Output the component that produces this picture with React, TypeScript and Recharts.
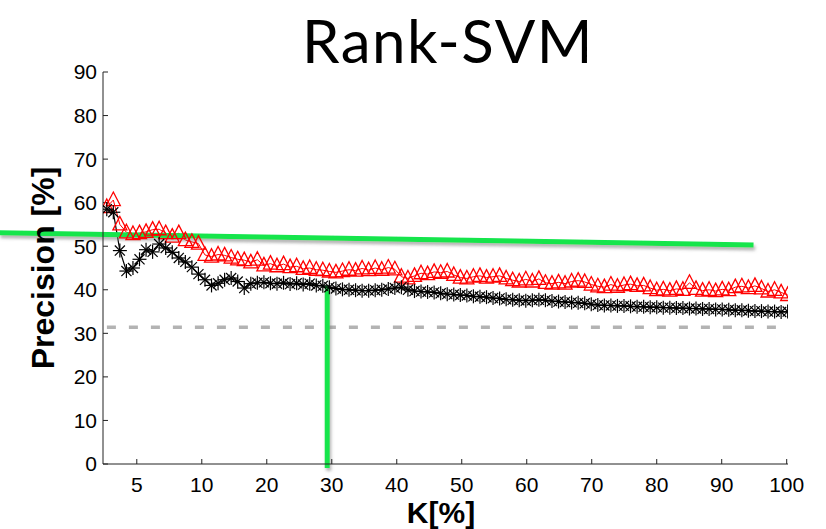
import React from "react";
import { LineChart, Line, XAxis, YAxis, ReferenceLine } from "recharts";

// Sample positions along the horizontal axis (evenly spaced samples)
const SAMPLE_COUNT = 105;
const FIRST_POS = -4.62;
const POS_STEP = 1.0074;
const samplePositions = Array.from({ length: SAMPLE_COUNT }, (_, i) => FIRST_POS + i * POS_STEP);

// Black asterisk series (precision, %)
const starSeries = [
  58.5, 57.8, 49.0, 44.3, 45.0, 47.0, 49.2, 48.7, 50.5, 49.6,
  48.6, 47.3, 46.4, 45.2, 43.6, 42.3, 41.0, 41.5, 42.3, 42.7,
  41.9, 40.4, 41.4, 41.6, 41.7, 41.5, 41.4, 41.6, 41.3, 41.5,
  41.2, 41.4, 41.0, 40.9, 40.6, 40.3, 40.1, 40.0, 39.9, 39.8,
  39.8, 39.9, 40.0, 40.2, 40.4, 40.6, 40.0, 39.7, 39.6, 39.5,
  39.4, 39.2, 39.0, 38.9, 38.8, 38.7, 38.5, 38.4, 38.3, 38.1,
  38.0, 37.8, 37.7, 37.6, 37.5, 37.6, 37.7, 37.6, 37.4, 37.3,
  37.2, 37.1, 37.0, 36.9, 36.7, 36.5, 36.4, 36.4, 36.3, 36.3,
  36.2, 36.1, 36.1, 36.0, 36.0, 35.9, 35.9, 35.8, 35.8, 35.7,
  35.7, 35.6, 35.6, 35.5, 35.5, 35.4, 35.3, 35.3, 35.2, 35.1,
  35.1, 35.0, 35.0, 34.9, 35.0,
];

// Red triangle series (precision, %)
const triangleSeries = [
  59.0, 60.6, 55.0, 53.2, 52.8, 53.0, 53.3, 53.8, 53.9, 53.0,
  52.2, 53.0, 51.4, 51.0, 50.6, 48.0, 47.6, 48.1, 47.9, 47.4,
  47.0, 46.8, 46.3, 46.9, 45.6, 46.0, 45.4, 45.9, 45.2, 45.4,
  44.8, 45.0, 44.6, 44.5, 44.2, 44.0, 44.3, 44.6, 44.4, 44.9,
  44.5, 45.0, 44.6, 45.1, 44.7, 43.0, 42.6, 43.2, 43.8, 43.6,
  44.1, 43.9, 44.2, 43.4, 42.8, 42.6, 43.0, 43.2, 42.8, 43.0,
  43.2, 42.6, 42.2, 41.9, 42.4, 41.9, 42.5, 41.6, 41.4, 41.7,
  41.4, 41.9, 42.1, 41.8, 41.2, 40.8, 40.6, 41.2, 40.7, 41.1,
  41.3, 40.9, 41.0, 40.4, 39.9, 40.1, 39.8, 40.2, 40.0, 41.6,
  40.2, 39.8, 40.0, 39.7, 40.1, 39.9, 40.6, 40.8, 40.4, 40.9,
  40.3, 39.6, 40.0, 39.4, 38.8,
];

// Horizontal axis ticks and the labels printed at them
const xTickPositions = [0, 10, 20, 30, 40, 50, 60, 70, 80, 90, 100];
const xTickLabels = ["5", "10", "20", "30", "40", "50", "60", "70", "80", "90", "100"];
const yTicks = [0, 10, 20, 30, 40, 50, 60, 70, 80, 90];

// Baseline level (dashed) and highlighted guide lines
const baselineLevel = 31.4;
const baselineSpan = [-4.6, 100];
const trendSegment = [
  { x: -21.2, y: 53.1 },
  { x: 94.9, y: 50.3 },
];
const cutSegment = [
  { x: 29.3, y: -0.9 },
  { x: 29.3, y: 40.9 },
];

const data = samplePositions.map((pos, i) => ({
  pos,
  star: starSeries[i],
  tri: triangleSeries[i],
}));

const GREEN = "#12e54b";

function StarDot(props: any) {
  const { cx, cy } = props;
  if (cx == null || cy == null) return null;
  const r = 7;
  const d = r * 0.72;
  return (
    <g stroke="#000" strokeWidth={1.2} fill="none">
      <line x1={cx - r} y1={cy} x2={cx + r} y2={cy} />
      <line x1={cx} y1={cy - r} x2={cx} y2={cy + r} />
      <line x1={cx - d} y1={cy - d} x2={cx + d} y2={cy + d} />
      <line x1={cx - d} y1={cy + d} x2={cx + d} y2={cy - d} />
    </g>
  );
}

function TriangleDot(props: any) {
  const { cx, cy } = props;
  if (cx == null || cy == null) return null;
  return (
    <path
      d={`M${cx},${cy - 8} L${cx + 7},${cy + 5.5} L${cx - 7},${cy + 5.5} Z`}
      fill="none"
      stroke="#ff0000"
      strokeWidth={1.3}
    />
  );
}

function YLabel(props: any) {
  const vb = props.viewBox || {};
  const x = vb.x;
  const y = vb.y + vb.height / 2;
  return (
    <text
      x={x}
      y={y}
      transform={`rotate(-90, ${x}, ${y})`}
      textAnchor="middle"
      dominantBaseline="central"
      fontFamily="Liberation Sans, Arial, sans-serif"
      fontWeight="bold"
      fontSize={32}
      fill="#000"
    >
      Precision [%]
    </text>
  );
}

export default function App() {
  const tickStyle = {
    fontFamily: "Liberation Sans, Arial, sans-serif",
    fontSize: 21,
    fill: "#000",
  };
  return (
    <div style={{ position: "absolute", left: 0, top: 0, width: 826, height: 529, background: "#fff" }}>
      <LineChart
        width={826}
        height={529}
        data={data}
        margin={{ top: 72, right: 38, bottom: 35, left: 43 }}
      >
        <defs>
          <filter
            id="greenShadow"
            filterUnits="userSpaceOnUse"
            x={-10}
            y={-10}
            width={846}
            height={549}
          >
            <feDropShadow dx="1.5" dy="3" stdDeviation="1.6" floodColor="#777" floodOpacity="0.55" />
          </filter>
        </defs>
        <XAxis
          dataKey="pos"
          type="number"
          domain={[-5.2, 100.2]}
          allowDataOverflow
          ticks={xTickPositions}
          tickFormatter={(v: number) => xTickLabels[xTickPositions.indexOf(v)] ?? String(v)}
          tickSize={-5}
          tickMargin={18}
          height={30}
          axisLine={{ stroke: "#222", strokeWidth: 1 }}
          tickLine={{ stroke: "#222", strokeWidth: 1 }}
          tick={tickStyle}
          interval={0}
        />
        <YAxis
          type="number"
          domain={[0, 90]}
          ticks={yTicks}
          allowDataOverflow
          width={60}
          tickSize={-5}
          tickMargin={11}
          axisLine={{ stroke: "#222", strokeWidth: 1 }}
          tickLine={{ stroke: "#222", strokeWidth: 1 }}
          tick={tickStyle}
          interval={0}
          label={<YLabel />}
        />
        <ReferenceLine
          segment={[
            { x: baselineSpan[0], y: baselineLevel },
            { x: baselineSpan[1], y: baselineLevel },
          ]}
          stroke="#b3b3b3"
          strokeWidth={3.5}
          strokeDasharray="9 13"
          ifOverflow="visible"
        />
        <Line
          dataKey="tri"
          stroke="#ff0000"
          strokeWidth={1}
          dot={<TriangleDot />}
          isAnimationActive={false}
        />
        <Line
          dataKey="star"
          stroke="#000"
          strokeWidth={1.2}
          dot={<StarDot />}
          isAnimationActive={false}
        />
        <ReferenceLine
          segment={trendSegment}
          stroke={GREEN}
          strokeWidth={5}
          ifOverflow="visible"
          filter="url(#greenShadow)"
        />
        <ReferenceLine
          segment={cutSegment}
          stroke={GREEN}
          strokeWidth={5}
          ifOverflow="visible"
          filter="url(#greenShadow)"
        />
      </LineChart>
      <svg
        width={826}
        height={529}
        style={{ position: "absolute", left: 0, top: 0, pointerEvents: "none" }}
      >
        <text
          x={448}
          y={63}
          textAnchor="middle"
          fontFamily="Lato, 'Open Sans', sans-serif"
          fontSize={60}
          letterSpacing={1.5}
          fill="#000"
        >
          Rank-SVM
        </text>
        <text
          x={441}
          y={523}
          textAnchor="middle"
          fontFamily="Liberation Sans, Arial, sans-serif"
          fontWeight="bold"
          fontSize={30}
          fill="#000"
        >
          K[%]
        </text>
      </svg>
    </div>
  );
}
